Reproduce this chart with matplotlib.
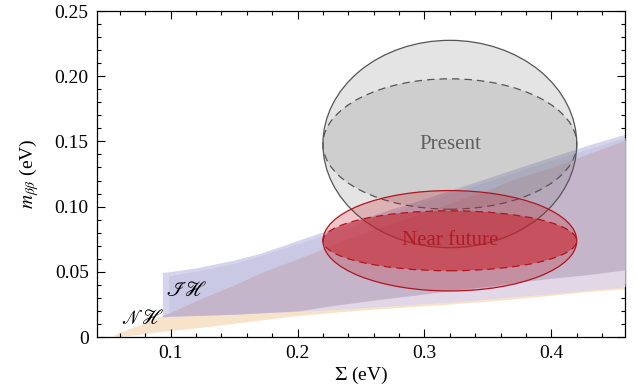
import numpy as np
import matplotlib
matplotlib.use("Agg")
import matplotlib.pyplot as plt
from matplotlib.patches import Ellipse
from matplotlib.ticker import MultipleLocator, FuncFormatter

plt.rcParams['font.family'] = ['Liberation Serif', 'DejaVu Serif']
plt.rcParams['mathtext.fontset'] = 'stix'

# valores (Sigma em eV, m_bb em eV)
sigma = np.array([0.0935, 0.1, 0.12, 0.15, 0.17, 0.2, 0.227, 0.25, 0.27, 0.3,
                  0.312, 0.35, 0.373, 0.4, 0.43, 0.458])

# hierarquia normal
nh_sigma_left = [0.056, 0.06, 0.075]
nh_upper_left = [0.002, 0.0038, 0.009]
nh_lower_left = [0.0, 0.0005, 0.002]
nh_upper = np.array([0.0165, 0.019, 0.028, 0.040, 0.049, 0.060, 0.0705, 0.079, 0.086, 0.096,
                     0.100, 0.113, 0.122, 0.130, 0.141, 0.151])
nh_lower_3s = np.array([0.0045, 0.005, 0.007, 0.0105, 0.013, 0.0165, 0.0188, 0.0207, 0.022, 0.024,
                        0.0247, 0.0275, 0.0295, 0.032, 0.035, 0.037])
nh_lower_bf = np.array([0.006, 0.0068, 0.009, 0.014, 0.0168, 0.020, 0.024, 0.027, 0.0295, 0.033,
                        0.0346, 0.039, 0.042, 0.045, 0.048, 0.0515])

# hierarquia invertida
ih_upper = np.array([0.0495, 0.0502, 0.053, 0.059, 0.064, 0.074, 0.083, 0.090, 0.097, 0.106,
                     0.110, 0.122, 0.1295, 0.138, 0.1475, 0.1555])
ih_lower = np.array([0.0155, 0.016, 0.0165, 0.0175, 0.0185, 0.0198, 0.0212, 0.0227, 0.0238, 0.0258,
                     0.0264, 0.0293, 0.0313, 0.0335, 0.0363, 0.0387])
ih_bf_sigma = [0.0985, 0.12, 0.15, 0.2, 0.25, 0.3, 0.35, 0.4, 0.458]
ih_bf_upper = [0.047, 0.0505, 0.0563, 0.0713, 0.0875, 0.1035, 0.1195, 0.1355, 0.153]
ih_bf_lower = [0.018, 0.0185, 0.0195, 0.0215, 0.0245, 0.0275, 0.031, 0.035, 0.041]

# elipses: centro (Sigma, m_bb), semi-eixos
present_center = (0.32, 0.148)
present_semi = (0.1, 0.0795)
present_inner_semi = (0.1, 0.05)
future_center = (0.32, 0.0738)
future_semi = (0.1, 0.0385)
future_inner_semi = (0.1, 0.023)

x_ticks = [0.1, 0.2, 0.3, 0.4]
y_ticks = [0, 0.05, 0.10, 0.15, 0.20, 0.25]

fig = plt.figure(figsize=(6.37, 3.91), dpi=100)
ax = fig.add_axes([97 / 637, 1 - 337 / 391, (625 - 97) / 637, (337 - 11) / 391])

# faixas
nh_s = np.concatenate([nh_sigma_left, sigma])
nh_up = np.concatenate([nh_upper_left, nh_upper])
nh_lo = np.concatenate([nh_lower_left, nh_lower_3s])
ax.fill_between(nh_s, nh_lo, nh_up, color='#f7e2ca', lw=0, zorder=1)
ax.fill_between(sigma, ih_lower, ih_upper, color='#d4d4ec', lw=0, zorder=2)
ax.fill_between(ih_bf_sigma, ih_bf_lower, ih_bf_upper, color='#c9c9e5', lw=0, zorder=3)
ax.fill_between(sigma, ih_lower, nh_upper, where=nh_upper > ih_lower, interpolate=True,
                color='#e1d7e7', lw=0, zorder=4)
lo_m = np.maximum(ih_lower, nh_lower_bf)
ax.fill_between(sigma, lo_m, nh_upper, where=nh_upper > lo_m, interpolate=True,
                color='#c4b5cb', lw=0, zorder=5)

# elipse "Present"
gray = '#787878'
ax.add_patch(Ellipse(present_center, 2 * present_semi[0], 2 * present_semi[1],
                     facecolor=gray, alpha=0.2, edgecolor='none', zorder=6))
ax.add_patch(Ellipse(present_center, 2 * present_inner_semi[0], 2 * present_inner_semi[1],
                     facecolor=gray, alpha=0.2, edgecolor='none', zorder=6))
ax.add_patch(Ellipse(present_center, 2 * present_semi[0], 2 * present_semi[1],
                     facecolor='none', edgecolor='#555555', lw=0.9, zorder=7))
ax.add_patch(Ellipse(present_center, 2 * present_inner_semi[0], 2 * present_inner_semi[1],
                     facecolor='none', edgecolor='#555555', lw=0.9, ls=(0, (6, 4)), zorder=7))

# elipse "Near future"
red = '#c81e28'
ax.add_patch(Ellipse(future_center, 2 * future_semi[0], 2 * future_semi[1],
                     facecolor=red, alpha=0.25, edgecolor='none', zorder=8))
ax.add_patch(Ellipse(future_center, 2 * future_inner_semi[0], 2 * future_inner_semi[1],
                     facecolor=red, alpha=0.55, edgecolor='none', zorder=8))
ax.add_patch(Ellipse(future_center, 2 * future_semi[0], 2 * future_semi[1],
                     facecolor='none', edgecolor='#b0141e', lw=0.9, zorder=9))
ax.add_patch(Ellipse(future_center, 2 * future_inner_semi[0], 2 * future_inner_semi[1],
                     facecolor='none', edgecolor='#b0141e', lw=0.9, ls=(0, (6, 4)), zorder=9))

ax.text(present_center[0], present_center[1], 'Present', color='#5f5f5f', fontsize=15,
        ha='center', va='center', zorder=10)
ax.text(future_center[0], future_center[1], 'Near future', color='#b01c24', fontsize=15,
        ha='center', va='center', zorder=10)
ax.text(0.1126, 0.0346, r'$\mathscr{I}\mathscr{H}$', fontsize=15, ha='center', va='center', zorder=10)
ax.text(0.0781, 0.0131, r'$\mathscr{N}\mathscr{H}$', fontsize=15, ha='center', va='center', zorder=10)

ax.set_xlim(0.042, 0.458)
ax.set_ylim(0, 0.25)
ax.set_xticks(x_ticks)
ax.set_yticks(y_ticks)
ax.xaxis.set_minor_locator(MultipleLocator(0.02))
ax.yaxis.set_minor_locator(MultipleLocator(0.01))
ax.xaxis.set_major_formatter(FuncFormatter(lambda v, p: f'{v:.1f}'))
ax.yaxis.set_major_formatter(FuncFormatter(lambda v, p: '0' if abs(v) < 1e-9 else f'{v:.2f}'))
ax.tick_params(which='both', direction='in', top=True, right=True, labelsize=14, width=0.8)
ax.tick_params(which='major', length=5.5, pad=6)
ax.tick_params(which='minor', length=3)
for s in ax.spines.values():
    s.set_linewidth(0.9)

ax.set_xlabel(r'$\Sigma$ (eV)', fontsize=14, labelpad=2)
ax.set_ylabel(r'$m_{\beta\beta}$ (eV)', fontsize=14, labelpad=10)

fig.savefig('out.png', dpi=100)
